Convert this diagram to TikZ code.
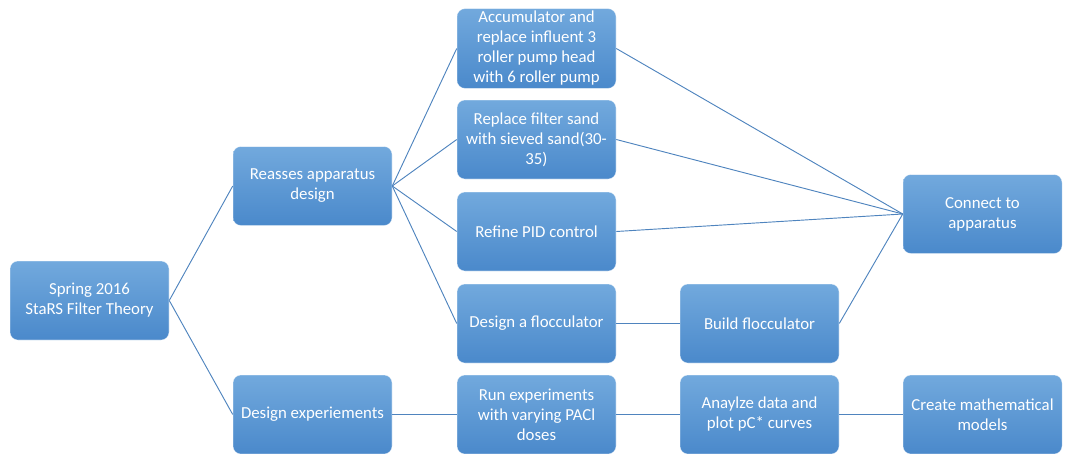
\documentclass[tikz,border=0pt]{standalone}
\usepackage{fontspec}
\setmainfont{Carlito}
\definecolor{boxtop}{HTML}{72A9DD}
\definecolor{boxbot}{HTML}{4A89CB}
\definecolor{linec}{HTML}{4F84BE}
\tikzset{
  box/.style={rectangle, rounded corners=6pt, top color=boxtop, bottom color=boxbot,
    draw=white, draw opacity=0.5, line width=0.4pt,
    minimum width=119.25pt, minimum height=59.25pt, align=center, text=white,
    font=\fontsize{12.6}{15}\selectfont, inner sep=2pt},
  conn/.style={draw=linec, line width=0.7pt}
}
\begin{document}
\begin{tikzpicture}[x=0.75pt,y=-0.75pt]
\useasboundingbox (0,0) rectangle (1066,453);
\node[box] (spring) at (89.5,300.5) {Spring 2016\\StaRS Filter Theory};
\node[box] (reasses) at (312.5,186) {Reasses apparatus\\design};
\node[box] (designexp) at (312.5,414.5) {Design experiements};
\node[box] (acc) at (536.5,48.5) {Accumulator and\\replace influent 3\\roller pump head\\with 6 roller pump};
\node[box] (filter) at (536.5,139.5) {Replace filter sand\\with sieved sand(30-\\35)};
\node[box] (pid) at (536.5,231.5) {Refine PID control};
\node[box] (dflocc) at (536.5,323.5) {Design a flocculator};
\node[box] (run) at (536.5,414.5) {Run experiments\\with varying PACl\\doses};
\node[box] (build) at (759.5,323.5) {Build flocculator};
\node[box] (analyze) at (759.5,414.5) {Anaylze data and\\plot pC* curves};
\node[box] (create) at (982.5,414.5) {Create mathematical\\models};
\node[box] (connect) at (982.5,214) {Connect to\\apparatus};
\draw[conn] (spring.east) -- (reasses.west);
\draw[conn] (spring.east) -- (designexp.west);
\draw[conn] (reasses.east) -- (acc.west);
\draw[conn] (reasses.east) -- (filter.west);
\draw[conn] (reasses.east) -- (pid.west);
\draw[conn] (reasses.east) -- (dflocc.west);
\draw[conn] (acc.east) -- (connect.west);
\draw[conn] (filter.east) -- (connect.west);
\draw[conn] (pid.east) -- (connect.west);
\draw[conn] (dflocc.east) -- (build.west);
\draw[conn] (build.east) -- (connect.west);
\draw[conn] (designexp.east) -- (run.west);
\draw[conn] (run.east) -- (analyze.west);
\draw[conn] (analyze.east) -- (create.west);
\end{tikzpicture}
\end{document}
